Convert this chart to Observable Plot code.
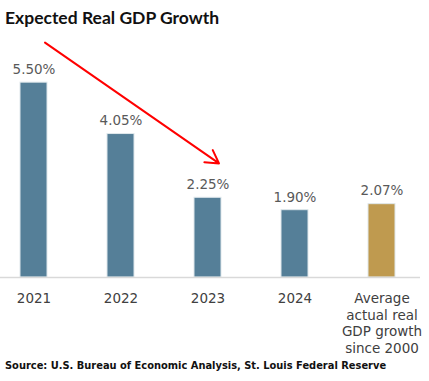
<!DOCTYPE html>
<html>
<head>
<meta charset="utf-8">
<script src="https://cdn.jsdelivr.net/npm/d3@7"></script>
<script src="https://cdn.jsdelivr.net/npm/@observablehq/plot@0.6"></script>
<style>
  html, body { margin: 0; padding: 0; background: #fff; }
  #title { font-family: Lato, "Open Sans", sans-serif; font-weight: 700; font-size: 17.5px; line-height: 22px; padding: 7px 0 0 5px; height: 23px; color: #111; }
  #caption { font-family: "DejaVu Sans", sans-serif; font-weight: 700; font-size: 9.9px; line-height: 12px; padding-left: 5px; color: #111; white-space: nowrap; }
  svg { display: block; }
</style>
</head>
<body>
<div id="title">Expected Real GDP Growth</div>
<div id="chart"></div>
<div id="caption">Source: U.S. Bureau of Economic Analysis, St. Louis Federal Reserve</div>
<script>
const categories = ["2021", "2022", "2023", "2024", "Average actual real GDP growth since 2000"];
const tickLabels = ["2021", "2022", "2023", "2024", "Average\nactual real\nGDP growth\nsince 2000"];
const values = [5.50, 4.05, 2.25, 1.90, 2.07];
const valueLabels = ["5.50%", "4.05%", "2.25%", "1.90%", "2.07%"];
const kinds = ["forecast", "forecast", "forecast", "forecast", "actual"];
// trend arrow: from above 2021 down to 2023
const arrowFrom = {x: "2021", y: 6.63};
const arrowTo = {x: "2023", y: 3.22};

const data = categories.map((c, i) => ({cat: c, value: values[i], label: valueLabels[i], kind: kinds[i]}));
const labelOf = new Map(categories.map((c, i) => [c, tickLabels[i]]));

const chart = Plot.plot({
  width: 429,
  height: 330,
  marginLeft: 2,
  marginRight: 17,
  marginTop: 10,
  marginBottom: 83,
  x: {domain: categories, paddingInner: 0.69, paddingOuter: 0.2, label: null},
  y: {domain: [0, 6.69], axis: null},
  color: {domain: ["forecast", "actual"], range: ["#557f98", "#bf9a4f"]},
  style: {fontFamily: "DejaVu Sans, sans-serif", background: "#fff"},
  marks: [
    Plot.barY(data, {x: "cat", y: "value", fill: "kind", stroke: "#dfe8ec", strokeWidth: 1}),
    Plot.ruleY([0], {stroke: "#d9d9d9", strokeWidth: 1.5, insetLeft: -2, insetRight: -8}),
    Plot.text(data, {x: "cat", y: "value", text: "label", dy: -13, fontSize: 13.5, fill: "#595959", lineAnchor: "middle"}),
    Plot.arrow([{}], {
      x1: () => arrowFrom.x, y1: () => arrowFrom.y,
      x2: () => arrowTo.x, y2: () => arrowTo.y,
      dx: 11, stroke: "#ff0000", strokeWidth: 2, headLength: 11, bend: 0
    }),
    Plot.axisX({tickSize: 0, tickPadding: 14, fontSize: 13.5, fill: "#404040", lineHeight: 1.22, tickFormat: d => labelOf.get(d), label: null})
  ]
});
document.getElementById("chart").appendChild(chart);
</script>
</body>
</html>
